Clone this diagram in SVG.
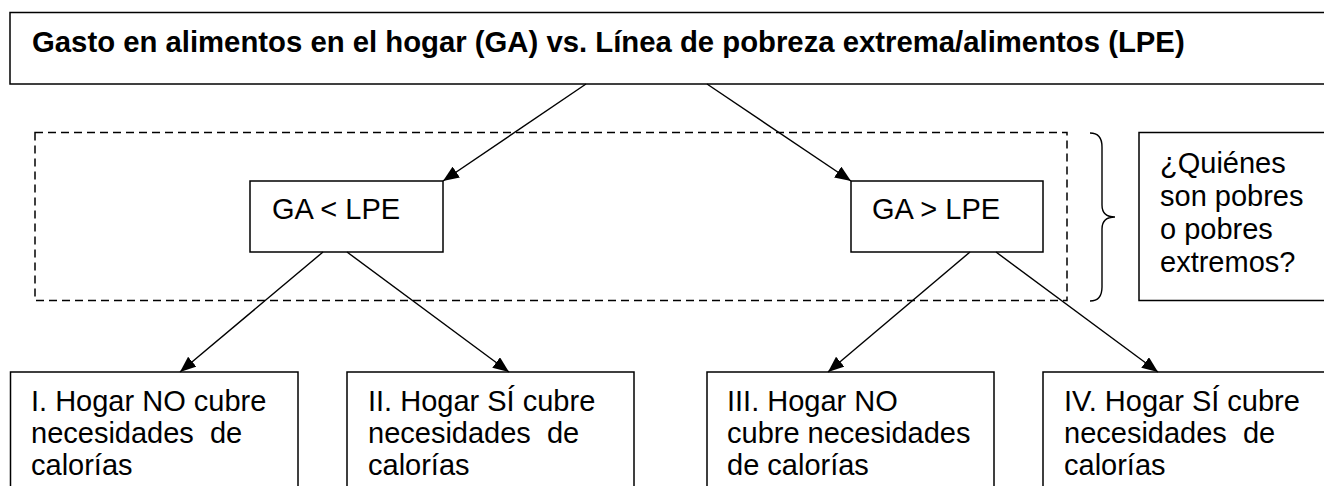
<svg xmlns="http://www.w3.org/2000/svg" width="1324" height="486" viewBox="0 0 1324 486">
<style>
.box{fill:#fff;stroke:#000;stroke-width:1.5}
.t{font-family:"Liberation Sans",Arial,sans-serif;font-size:29px;fill:#000}
.b{font-weight:bold;font-size:29.3px}
.c{stroke:#000;stroke-width:1.4;fill:none}
.dash{fill:none;stroke:#000;stroke-width:1.5;stroke-dasharray:8 5}
</style>
<defs>
<marker id="ah" markerUnits="userSpaceOnUse" markerWidth="17" markerHeight="13" refX="16" refY="6.5" orient="auto">
<path d="M0,0 L16,6.5 L0,13 Z" fill="#000"/>
</marker>
</defs>
<rect width="1324" height="486" fill="#fff"/>
<g id="title">
<rect class="box" x="10" y="12.5" width="1330" height="71.5"/>
<text class="t b" x="32" y="52">Gasto en alimentos en el hogar (GA) vs. Línea de pobreza extrema/alimentos (LPE)</text>
</g>
<g id="group-frame">
<rect class="dash" x="35" y="132.5" width="1032" height="168"/>
<path class="c" d="M1090,133 C1098,133 1102,137 1102,147 L1102,205 C1102,213 1107,217 1115,217 C1107,217 1102,221 1102,229 L1102,287 C1102,297 1098,301 1090,301"/>
</g>
<g id="question">
<rect class="box" x="1139" y="132.5" width="200" height="168"/>
<text class="t" x="1160" y="173">¿Quiénes</text>
<text class="t" x="1160" y="206">son pobres</text>
<text class="t" x="1160" y="239">o pobres</text>
<text class="t" x="1160" y="272">extremos?</text>
</g>
<g id="ga-lt">
<rect class="box" x="250" y="181" width="193" height="71"/>
<text class="t" x="272" y="219">GA &lt; LPE</text>
</g>
<g id="ga-gt">
<rect class="box" x="851" y="181" width="192" height="71"/>
<text class="t" x="872" y="219">GA &gt; LPE</text>
</g>
<g id="n1">
<rect class="box" x="10.5" y="372" width="287.5" height="130"/>
<text class="t" x="31" y="411">I. Hogar NO cubre</text>
<text class="t" x="31" y="443" xml:space="preserve">necesidades  de</text>
<text class="t" x="31" y="475">calorías</text>
</g>
<g id="n2">
<rect class="box" x="347" y="372" width="287" height="130"/>
<text class="t" x="368" y="411">II. Hogar SÍ cubre</text>
<text class="t" x="368" y="443" xml:space="preserve">necesidades  de</text>
<text class="t" x="368" y="475">calorías</text>
</g>
<g id="n3">
<rect class="box" x="707" y="372" width="287" height="130"/>
<text class="t" x="727" y="411">III. Hogar NO</text>
<text class="t" x="727" y="443">cubre necesidades</text>
<text class="t" x="727" y="475">de calorías</text>
</g>
<g id="n4">
<rect class="box" x="1043" y="372" width="300" height="130"/>
<text class="t" x="1064" y="411">IV. Hogar SÍ cubre</text>
<text class="t" x="1064" y="443" xml:space="preserve">necesidades  de</text>
<text class="t" x="1064" y="475">calorías</text>
</g>
<g id="connectors">
<line class="c" x1="586" y1="84" x2="443" y2="181" marker-end="url(#ah)"/>
<line class="c" x1="707" y1="84" x2="851" y2="181" marker-end="url(#ah)"/>
<line class="c" x1="323" y1="252" x2="180" y2="372" marker-end="url(#ah)"/>
<line class="c" x1="347" y1="252" x2="509" y2="372" marker-end="url(#ah)"/>
<line class="c" x1="970" y1="252" x2="828" y2="372" marker-end="url(#ah)"/>
<line class="c" x1="996" y1="252" x2="1158" y2="372" marker-end="url(#ah)"/>
</g>
</svg>
